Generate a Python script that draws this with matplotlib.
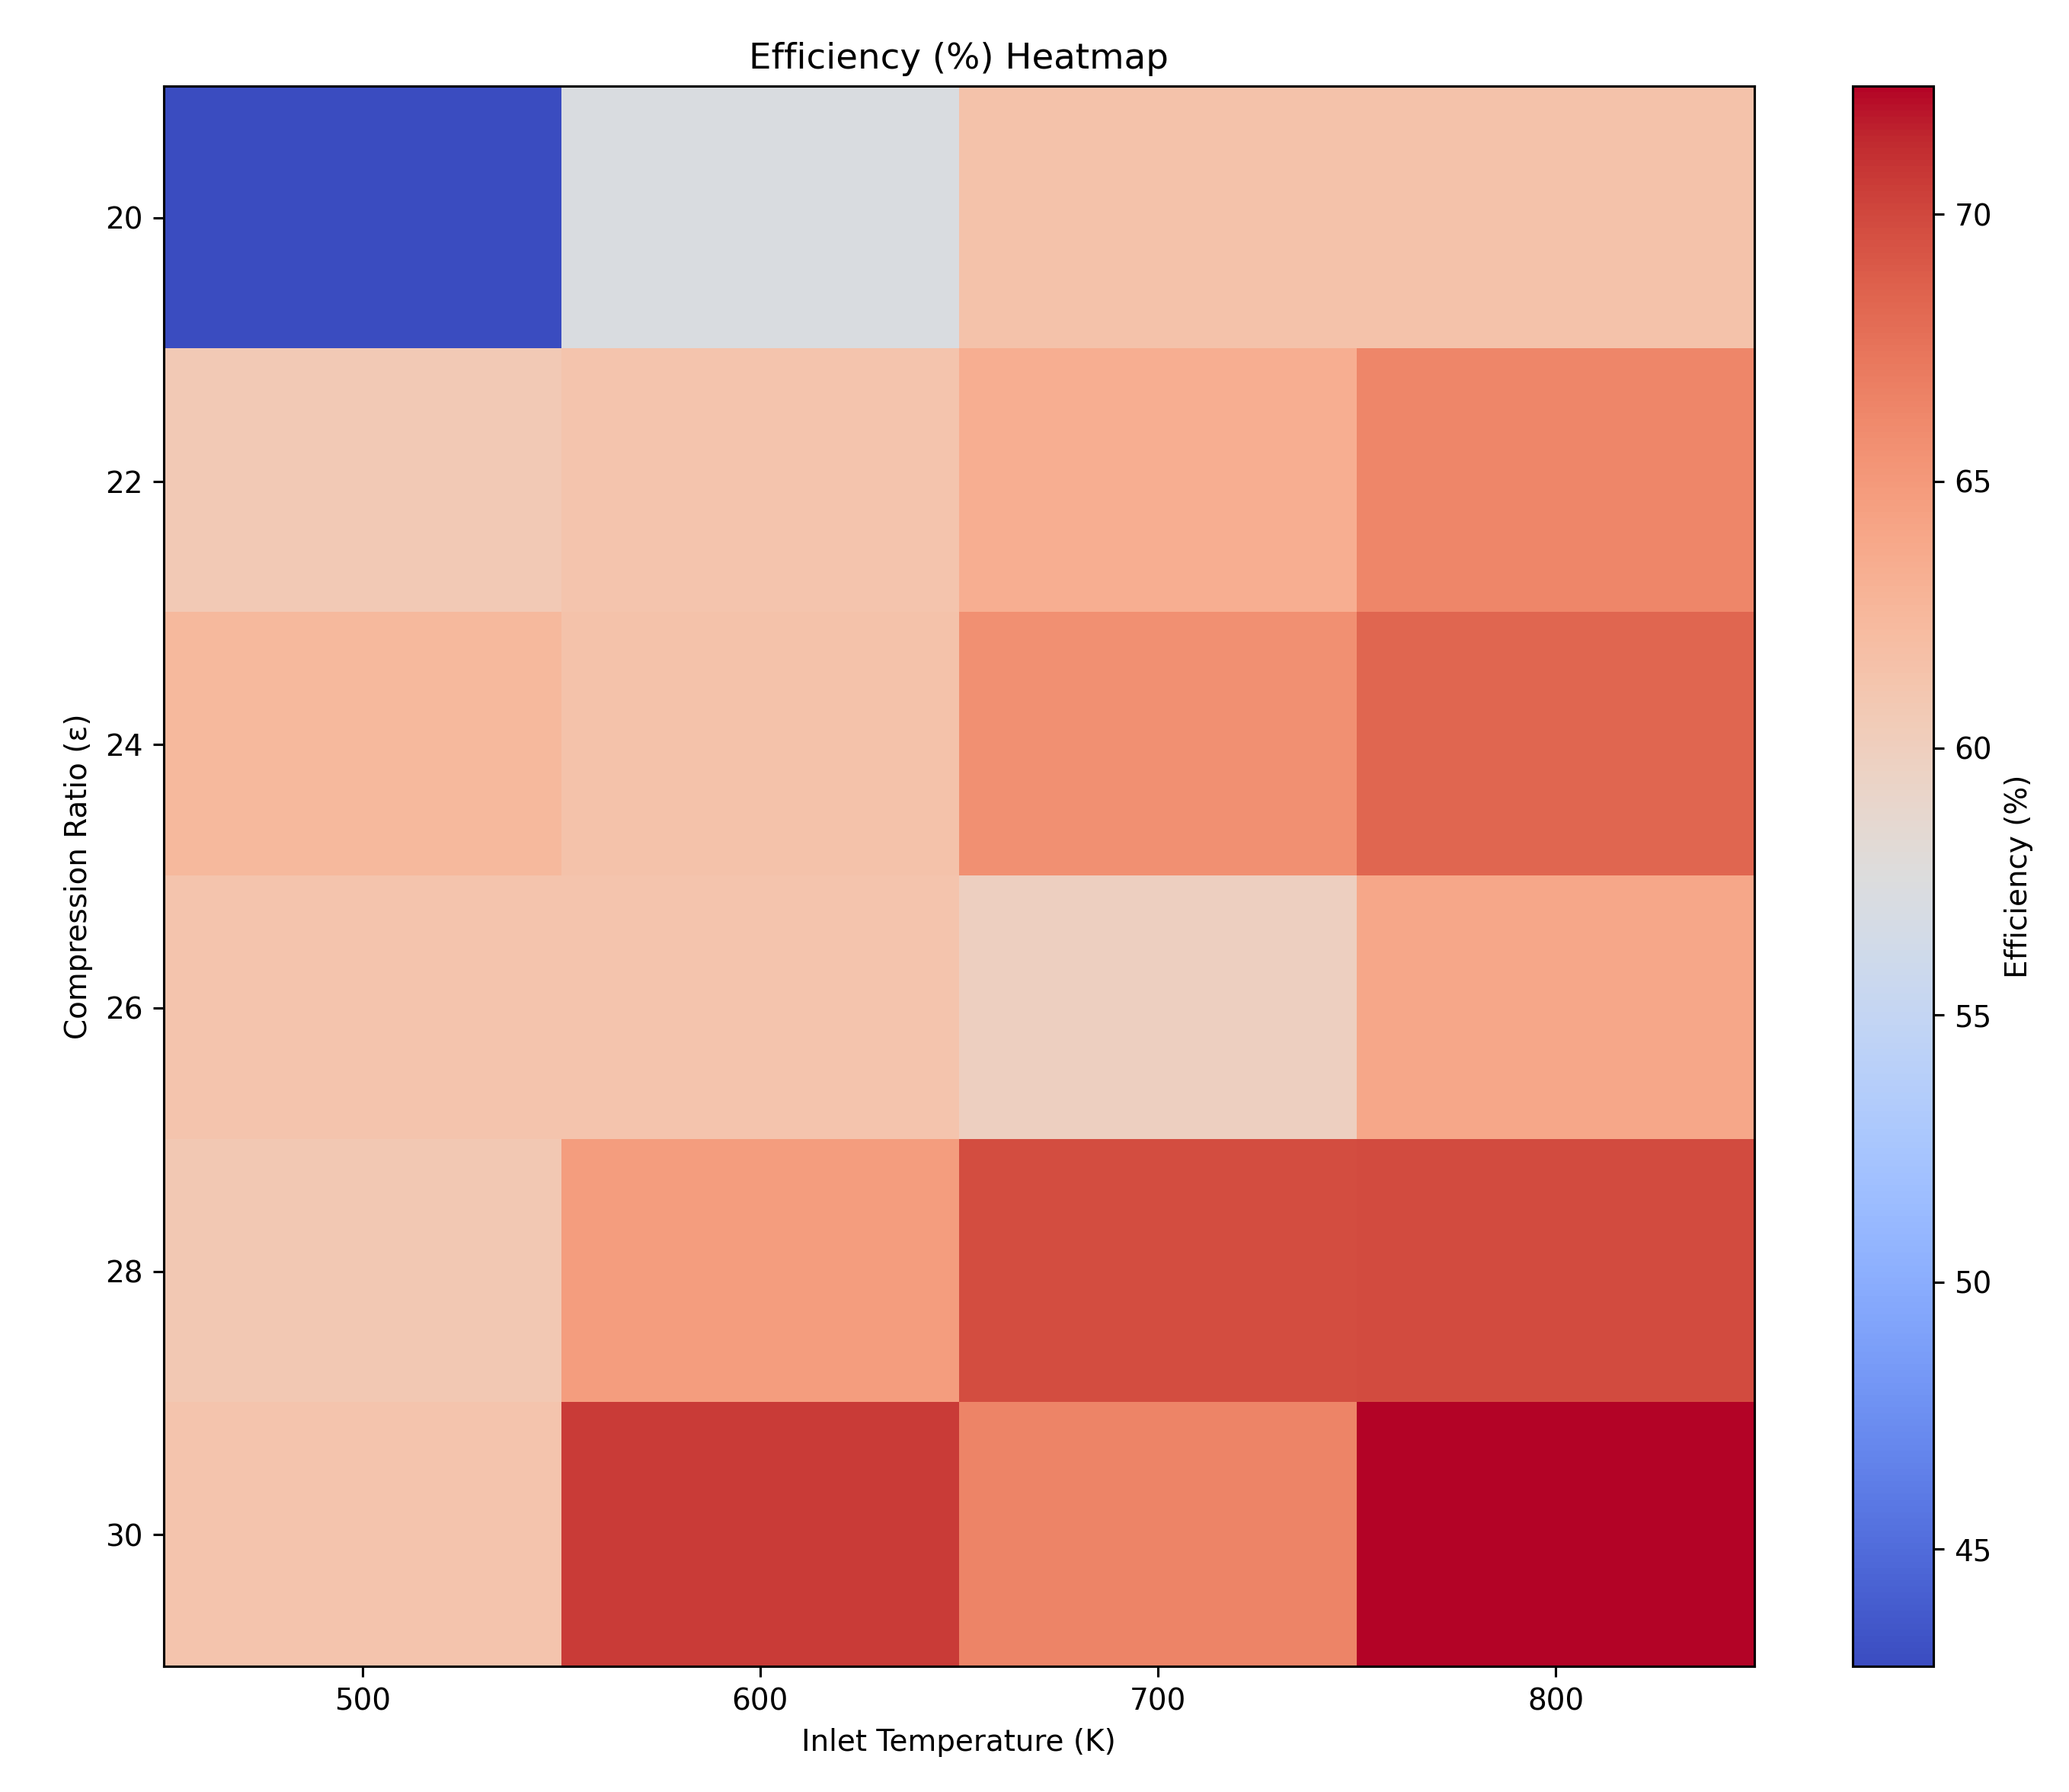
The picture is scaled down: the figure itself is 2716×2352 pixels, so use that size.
import numpy as np
import matplotlib.pyplot as plt


# ----------------------------
# Data
# ----------------------------
inlet_temps = [500, 600, 700, 800]
compression_ratios = [20, 22, 24, 26, 28, 30]

# rows = compression ratio, columns = inlet temperature
eff_20 = [42.8, 57.2, 61.5, 61.5]
eff_22 = [60.7, 61.3, 63.3, 66.3]
eff_24 = [62.4, 61.5, 65.6, 68.3]
eff_26 = [61.2, 61.2, 59.8, 63.9]
eff_28 = [60.8, 64.7, 69.7, 69.8]
eff_30 = [61.2, 70.6, 66.4, 72.4]


def build_grid():
    return np.array([eff_20, eff_22, eff_24, eff_26, eff_28, eff_30], dtype=float)


def plot_efficiency_heatmap(grid, outname="out.png"):
    fig = plt.figure(figsize=(9.7, 8.4), dpi=280)
    ax = fig.add_axes([0.079, 0.070, 0.769, 0.882])
    cax = fig.add_axes([0.8955, 0.070, 0.039, 0.882])

    dx = (inlet_temps[1] - inlet_temps[0]) / 2
    dy = (compression_ratios[1] - compression_ratios[0]) / 2

    im = ax.imshow(
        grid,
        cmap="coolwarm",
        aspect="auto",
        origin="upper",
        extent=[inlet_temps[0] - dx, inlet_temps[-1] + dx,
                compression_ratios[-1] + dy, compression_ratios[0] - dy],
    )

    cbar = fig.colorbar(im, cax=cax)
    cbar.set_label("Efficiency (%)")

    ax.set_xticks(inlet_temps)
    ax.set_yticks(compression_ratios)
    ax.set_xlabel("Inlet Temperature (K)")
    ax.set_ylabel("Compression Ratio (ε)")
    ax.set_title("Efficiency (%) Heatmap")

    fig.savefig(outname, dpi=280)
    plt.close(fig)


if __name__ == "__main__":
    plot_efficiency_heatmap(build_grid())
